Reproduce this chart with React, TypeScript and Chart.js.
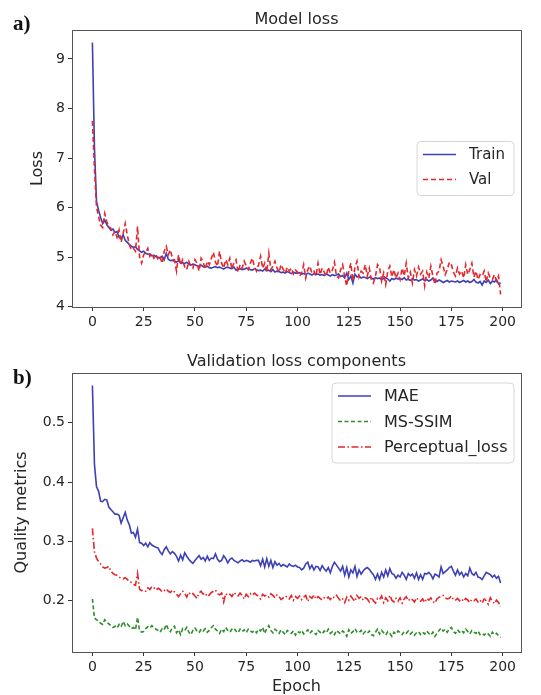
import React, { useEffect, useRef } from "react";
import { Chart, registerables } from "chart.js";

Chart.register(...registerables);

// ---------- data ----------
const EPOCHS = Array.from({ length: 200 }, (_, i) => i);
const X_TICKS = [0, 25, 50, 75, 100, 125, 150, 175, 200];
const LOSS_TICKS = [4, 5, 6, 7, 8, 9];
const METRIC_TICKS = [0.2, 0.3, 0.4, 0.5];

const TRAIN = [
  9.33, 7.2, 6.12, 5.95, 5.8, 5.68, 5.75, 5.66, 5.6, 5.55,
  5.57, 5.5, 5.52, 5.4, 5.38, 5.45, 5.34, 5.3, 5.26, 5.22,
  5.2, 5.21, 5.16, 5.13, 5.1, 5.12, 5.08, 5.06, 5.07, 5.03,
  5.04, 5.01, 5.0, 4.98, 5.02, 4.95, 5.08, 4.96, 4.93, 4.94,
  4.92, 4.9, 4.93, 4.88, 4.89, 4.87, 4.9, 4.86, 4.84, 4.86,
  4.85, 4.83, 4.82, 4.84, 4.81, 4.8, 4.82, 4.79, 4.78, 4.8,
  4.81, 4.79, 4.8, 4.78, 4.76, 4.79, 4.8, 4.78, 4.77, 4.8,
  4.74, 4.76, 4.77, 4.75, 4.76, 4.78, 4.77, 4.75, 4.74, 4.77,
  4.75, 4.73, 4.74, 4.72, 4.76, 4.73, 4.74, 4.71, 4.75, 4.7,
  4.72, 4.71, 4.69, 4.7, 4.68, 4.71, 4.69, 4.67, 4.7, 4.68,
  4.68, 4.69, 4.66, 4.67, 4.65, 4.68, 4.66, 4.64, 4.67, 4.65,
  4.66, 4.64, 4.65, 4.63, 4.66, 4.64, 4.62, 4.65, 4.63, 4.64,
  4.66, 4.61, 4.63, 4.58, 4.68, 4.55, 4.62, 4.48, 4.66, 4.6,
  4.62, 4.58, 4.6, 4.59, 4.57, 4.6, 4.58, 4.56, 4.59, 4.57,
  4.58, 4.55, 4.57, 4.59, 4.56, 4.52, 4.57, 4.55, 4.58, 4.56,
  4.57, 4.55, 4.59, 4.54, 4.56, 4.53, 4.57, 4.54, 4.55, 4.52,
  4.54, 4.56, 4.53, 4.55, 4.52, 4.54, 4.58, 4.53, 4.51, 4.54,
  4.52, 4.49, 4.51, 4.53, 4.5, 4.52, 4.51, 4.5, 4.52, 4.49,
  4.51, 4.53, 4.5, 4.52, 4.49, 4.51, 4.55, 4.5, 4.48, 4.51,
  4.44, 4.52, 4.49, 4.54, 4.47, 4.52, 4.5, 4.55, 4.46, 4.48,
];

const VAL = [
  7.75, 6.8, 6.02, 5.82, 5.65, 5.6, 5.88, 5.72, 5.62, 5.58,
  5.45, 5.52, 5.4, 5.55, 5.3, 5.48, 5.68, 5.45, 5.25, 5.15,
  5.18, 5.12, 5.62, 5.0, 4.88, 5.05, 5.1, 5.18, 5.02, 5.08,
  4.98, 5.05, 4.95, 5.0, 4.88, 5.12, 5.22, 5.05, 5.15, 4.98,
  4.95, 4.72, 5.05, 4.85, 4.95, 4.8, 4.75, 4.92, 4.82, 4.78,
  4.95, 4.88, 4.72, 4.98, 4.9, 4.76, 4.92, 4.85, 4.98, 5.1,
  4.9, 4.82, 5.12, 4.88, 4.78, 4.95, 4.85, 4.98, 4.76, 4.9,
  4.95, 4.7, 4.85, 4.78, 4.92, 4.82, 4.75, 4.88, 4.98, 4.8,
  4.72, 4.85, 5.02, 4.78, 4.88, 4.7, 5.08, 4.75, 4.82, 4.92,
  4.78, 4.7, 4.85, 4.76, 4.68, 4.8, 4.72, 4.78, 4.66, 4.74,
  4.7, 4.62, 4.68, 4.85, 4.58, 4.75, 4.82, 4.68, 4.72, 4.62,
  4.88, 4.65, 4.78, 4.7, 4.62, 4.8, 4.68, 4.74, 4.9, 4.62,
  4.58, 4.75, 4.85, 4.6, 4.42, 4.72, 4.88, 4.52, 4.8, 4.92,
  4.6, 4.72, 4.68, 4.85, 4.62, 4.78, 4.55, 4.48, 4.62, 4.85,
  4.8, 4.52, 4.68, 4.45, 4.72, 4.82, 4.6, 4.75, 4.58, 4.68,
  4.55, 4.78, 4.62, 4.88, 4.58, 4.7, 4.48, 4.75, 4.62, 4.8,
  4.66, 4.72, 4.42, 4.7, 4.58, 4.82, 4.62, 4.45, 4.68, 4.72,
  4.95, 4.82, 4.65, 4.75, 4.9, 4.85, 4.7, 4.62, 4.78, 4.66,
  4.72, 4.58, 4.85, 4.65, 4.75, 4.88, 4.6, 4.72, 4.55, 4.65,
  4.62, 4.72, 4.5, 4.68, 4.58, 4.55, 4.65, 4.52, 4.62, 4.25,
];

const MAE = [
  0.563, 0.43, 0.392, 0.385, 0.368, 0.367, 0.371, 0.37, 0.358, 0.354,
  0.35, 0.346, 0.346, 0.344, 0.331, 0.34, 0.349, 0.336, 0.328, 0.314,
  0.315, 0.307, 0.321, 0.298, 0.297, 0.293, 0.297, 0.291, 0.298, 0.294,
  0.292, 0.29, 0.289, 0.282, 0.278, 0.286, 0.291, 0.284, 0.279, 0.283,
  0.28, 0.275, 0.267, 0.277, 0.269, 0.281, 0.275, 0.27, 0.266, 0.263,
  0.268, 0.272, 0.276, 0.27, 0.273, 0.267, 0.275, 0.268, 0.272, 0.271,
  0.279, 0.27, 0.266, 0.268, 0.276, 0.271, 0.264, 0.27, 0.272, 0.268,
  0.266, 0.264, 0.267, 0.269, 0.266, 0.268, 0.267, 0.265, 0.268, 0.267,
  0.268, 0.268, 0.259, 0.27, 0.257, 0.271, 0.258, 0.268, 0.256, 0.266,
  0.26, 0.263, 0.258, 0.261, 0.259, 0.257, 0.262, 0.259, 0.258, 0.26,
  0.257, 0.256, 0.252, 0.255, 0.262, 0.265, 0.254, 0.26, 0.252, 0.258,
  0.257, 0.251, 0.259, 0.254, 0.25, 0.256, 0.247, 0.258, 0.265, 0.26,
  0.255, 0.25, 0.258, 0.243, 0.256, 0.24, 0.252, 0.247, 0.258, 0.241,
  0.252, 0.245, 0.25, 0.254, 0.256, 0.253, 0.248, 0.244, 0.236, 0.245,
  0.236, 0.248, 0.24, 0.252, 0.242, 0.254, 0.246, 0.244, 0.238, 0.243,
  0.24, 0.248, 0.243, 0.236, 0.246, 0.242, 0.245, 0.238, 0.247, 0.236,
  0.244, 0.236, 0.246, 0.245, 0.248, 0.244, 0.237, 0.245, 0.243, 0.24,
  0.257, 0.246, 0.249, 0.252, 0.256, 0.258, 0.25, 0.243, 0.252, 0.244,
  0.248, 0.24, 0.246, 0.242, 0.255, 0.246, 0.243, 0.248, 0.24, 0.239,
  0.236, 0.242, 0.248, 0.246, 0.244, 0.24, 0.243, 0.238, 0.241, 0.23,
];

const MS_SSIM = [
  0.203, 0.171, 0.168, 0.166, 0.162, 0.16, 0.168, 0.164, 0.161, 0.158,
  0.155, 0.157, 0.154, 0.16, 0.156, 0.165, 0.158, 0.161, 0.157, 0.153,
  0.155, 0.151, 0.172, 0.15, 0.147, 0.148, 0.153, 0.156, 0.154, 0.158,
  0.155, 0.152, 0.15, 0.147, 0.153, 0.151, 0.16, 0.152, 0.148, 0.155,
  0.157, 0.146, 0.151, 0.143, 0.153, 0.15, 0.155, 0.147, 0.143, 0.15,
  0.154, 0.149, 0.146, 0.152, 0.149, 0.153, 0.147, 0.15, 0.155, 0.158,
  0.152, 0.149, 0.145, 0.152, 0.148, 0.155, 0.15, 0.147, 0.152, 0.154,
  0.149, 0.146, 0.152, 0.148, 0.151, 0.146, 0.152, 0.149, 0.147, 0.15,
  0.146, 0.152, 0.149, 0.155, 0.145, 0.153, 0.158, 0.15, 0.146, 0.152,
  0.149, 0.145, 0.151, 0.147, 0.143, 0.15, 0.147, 0.145, 0.149, 0.142,
  0.148, 0.146, 0.15, 0.144, 0.147, 0.151, 0.145, 0.149, 0.146, 0.143,
  0.15, 0.147, 0.144, 0.149, 0.146, 0.152, 0.145, 0.148, 0.143, 0.15,
  0.147, 0.144, 0.149, 0.146, 0.14, 0.151, 0.145, 0.148, 0.153, 0.147,
  0.146, 0.15, 0.144, 0.148, 0.145, 0.149, 0.143, 0.141, 0.147, 0.152,
  0.144, 0.15, 0.146, 0.142, 0.148, 0.145, 0.14, 0.147, 0.144, 0.149,
  0.146, 0.143, 0.148, 0.145, 0.149, 0.144, 0.147, 0.142, 0.146, 0.148,
  0.143, 0.147, 0.144, 0.149, 0.145, 0.142, 0.147, 0.14, 0.145, 0.15,
  0.154, 0.149, 0.152, 0.147, 0.153, 0.155, 0.148, 0.145, 0.151, 0.147,
  0.15, 0.146, 0.152, 0.148, 0.144, 0.15, 0.147, 0.145, 0.149, 0.143,
  0.145, 0.142, 0.146, 0.144, 0.14, 0.147, 0.143, 0.145, 0.141, 0.138,
];

const PERCEPTUAL = [
  0.322, 0.282, 0.272, 0.266, 0.262, 0.257, 0.255, 0.256, 0.258, 0.25,
  0.246, 0.244, 0.243, 0.24, 0.238, 0.237, 0.239, 0.236, 0.232, 0.231,
  0.228, 0.226, 0.246, 0.219, 0.217, 0.218, 0.216, 0.222, 0.219, 0.224,
  0.222, 0.218, 0.221, 0.219, 0.215, 0.217, 0.22, 0.216, 0.214, 0.218,
  0.215, 0.211, 0.207, 0.212, 0.216, 0.213, 0.206, 0.214, 0.21, 0.212,
  0.208, 0.204, 0.213, 0.216, 0.211, 0.213, 0.207, 0.21, 0.214, 0.216,
  0.218, 0.212, 0.21, 0.213, 0.198, 0.212, 0.209, 0.211, 0.207, 0.214,
  0.21, 0.208, 0.213, 0.209, 0.203, 0.211, 0.207, 0.212, 0.209, 0.213,
  0.21, 0.207, 0.203, 0.211, 0.208, 0.21, 0.206, 0.212, 0.209, 0.205,
  0.21, 0.207, 0.202, 0.205, 0.208, 0.206, 0.203, 0.209, 0.201, 0.207,
  0.204, 0.208, 0.202, 0.206, 0.209, 0.199, 0.207, 0.204, 0.21, 0.203,
  0.207, 0.204, 0.201, 0.205, 0.203, 0.206, 0.202, 0.207, 0.205, 0.209,
  0.204, 0.2, 0.203, 0.197, 0.206, 0.201, 0.208, 0.203, 0.199, 0.209,
  0.204, 0.207, 0.201, 0.205, 0.203, 0.198, 0.206, 0.2, 0.196, 0.204,
  0.202, 0.208, 0.197, 0.205, 0.2, 0.209, 0.201, 0.198, 0.204, 0.199,
  0.205, 0.196, 0.203, 0.207, 0.2, 0.204, 0.202, 0.198, 0.205, 0.201,
  0.199, 0.203, 0.197, 0.204, 0.201, 0.205, 0.199, 0.196, 0.203, 0.206,
  0.207, 0.209, 0.205, 0.203, 0.204, 0.208, 0.202, 0.201, 0.204, 0.2,
  0.203, 0.199, 0.204, 0.201, 0.197, 0.202, 0.2, 0.203, 0.198, 0.201,
  0.196, 0.203, 0.2, 0.194, 0.205, 0.199, 0.195, 0.201, 0.197, 0.19,
];

// ---------- styling ----------
const FONT = "'DejaVu Sans', sans-serif";
const TEXT = "#262626";
const BLUE = "#3d41b5";
const RED = "#e5262b";
const GREEN = "#2f8c2f";

const X_MIN = -9.95;
const X_MAX = 208.95;

const frameLegendPlugin = {
  id: "frameLegend",
  afterDatasetsDraw(chart: any, _args: any, opts: any) {
    const { ctx, chartArea: a } = chart;
    ctx.save();
    // full box frame
    ctx.strokeStyle = "#555555";
    ctx.lineWidth = 1;
    ctx.setLineDash([]);
    ctx.strokeRect(
      Math.round(a.left) + 0.5,
      Math.round(a.top) + 0.5,
      Math.round(a.right - a.left),
      Math.round(a.bottom - a.top)
    );
    // title centred over the plot area
    ctx.font = `16px ${FONT}`;
    ctx.fillStyle = TEXT;
    ctx.textAlign = "center";
    ctx.textBaseline = "middle";
    ctx.fillText(opts.title, (a.left + a.right) / 2, opts.titleY);

    // legend
    const w = opts.width;
    const h = opts.height;
    const bx = a.right - opts.rightGap - w;
    const by = opts.vCenter ? (a.top + a.bottom) / 2 - h / 2 : a.top + opts.topGap;
    const r = 4;
    ctx.beginPath();
    ctx.moveTo(bx + r, by);
    ctx.lineTo(bx + w - r, by);
    ctx.quadraticCurveTo(bx + w, by, bx + w, by + r);
    ctx.lineTo(bx + w, by + h - r);
    ctx.quadraticCurveTo(bx + w, by + h, bx + w - r, by + h);
    ctx.lineTo(bx + r, by + h);
    ctx.quadraticCurveTo(bx, by + h, bx, by + h - r);
    ctx.lineTo(bx, by + r);
    ctx.quadraticCurveTo(bx, by, bx + r, by);
    ctx.closePath();
    ctx.fillStyle = "rgba(255,255,255,0.85)";
    ctx.fill();
    ctx.strokeStyle = "#d6d6d6";
    ctx.lineWidth = 1;
    ctx.stroke();

    ctx.font = `${opts.fontSize}px ${FONT}`;
    ctx.textBaseline = "middle";
    ctx.textAlign = "left";
    chart.data.datasets.forEach((ds: any, i: number) => {
      const y = by + opts.firstRow + i * opts.rowH;
      ctx.beginPath();
      ctx.strokeStyle = ds.borderColor;
      ctx.lineWidth = ds.borderWidth;
      ctx.setLineDash(ds.borderDash || []);
      ctx.moveTo(bx + 6, y);
      ctx.lineTo(bx + 39, y);
      ctx.stroke();
      ctx.setLineDash([]);
      ctx.fillStyle = TEXT;
      ctx.fillText(ds.label, bx + 52, y + 1);
    });
    ctx.restore();
  },
};

function toPoints(values: number[]) {
  return EPOCHS.map((x, i) => ({ x, y: values[i] }));
}

function xScale(axisHeight: number, title: string | null) {
  return {
    type: "linear",
    min: X_MIN,
    max: X_MAX,
    afterBuildTicks: (s: any) => {
      s.ticks = X_TICKS.map((v) => ({ value: v }));
    },
    afterFit: (s: any) => {
      s.height = axisHeight;
    },
    ticks: {
      font: { size: 14, family: FONT },
      color: TEXT,
      padding: 3,
      maxRotation: 0,
      autoSkip: false,
      callback: (v: any) => String(v),
    },
    grid: {
      drawOnChartArea: false,
      drawTicks: true,
      tickLength: 4,
      tickColor: "#333333",
    },
    border: { display: false },
    title: {
      display: !!title,
      text: title || "",
      font: { size: 16, family: FONT, lineHeight: 1 },
      color: TEXT,
      padding: { top: 0, bottom: 0 },
    },
  };
}

function yScale(min: number, max: number, ticks: number[], title: string, titlePad: number) {
  return {
    type: "linear",
    min,
    max,
    afterBuildTicks: (s: any) => {
      s.ticks = ticks.map((v) => ({ value: v }));
    },
    afterFit: (s: any) => {
      s.width = 72;
    },
    ticks: {
      font: { size: 14, family: FONT },
      color: TEXT,
      padding: 3,
      callback: (v: any) => String(v),
    },
    grid: {
      drawOnChartArea: false,
      drawTicks: true,
      tickLength: 4,
      tickColor: "#333333",
    },
    border: { display: false },
    title: {
      display: true,
      text: title,
      font: { size: 16, family: FONT, lineHeight: 1.2 },
      color: TEXT,
      padding: { top: titlePad, bottom: 0 },
    },
  };
}

export default function App() {
  const topRef = useRef<HTMLCanvasElement | null>(null);
  const botRef = useRef<HTMLCanvasElement | null>(null);

  useEffect(() => {
    Chart.defaults.font.family = FONT;
    const top = new Chart(topRef.current as HTMLCanvasElement, {
      type: "line",
      data: {
        datasets: [
          {
            label: "Train",
            data: toPoints(TRAIN),
            borderColor: BLUE,
            borderWidth: 1.6,
            borderDash: [],
            pointRadius: 0,
            fill: false,
            order: 1,
          },
          {
            label: "Val",
            data: toPoints(VAL),
            borderColor: RED,
            borderWidth: 1.6,
            borderDash: [5, 3],
            pointRadius: 0,
            fill: false,
            order: 0,
          },
        ],
      },
      options: {
        animation: false,
        responsive: false,
        layout: { padding: { left: 0, right: 20, top: 30, bottom: 0 } },
        scales: {
          x: xScale(33, null),
          y: yScale(3.996, 9.584, LOSS_TICKS, "Loss", 28),
        },
        plugins: {
          legend: { display: false },
          tooltip: { enabled: false },
          title: { display: false },
          frameLegend: {
            title: "Model loss",
            titleY: 19.5,
            width: 97,
            height: 54,
            rightGap: 7,
            vCenter: true,
            topGap: 0,
            firstRow: 13,
            rowH: 25,
            fontSize: 15,
          },
        },
      } as any,
      plugins: [frameLegendPlugin],
    } as any);

    const bot = new Chart(botRef.current as HTMLCanvasElement, {
      type: "line",
      data: {
        datasets: [
          {
            label: "MAE",
            data: toPoints(MAE),
            borderColor: BLUE,
            borderWidth: 1.6,
            borderDash: [],
            pointRadius: 0,
            fill: false,
          },
          {
            label: "MS-SSIM",
            data: toPoints(MS_SSIM),
            borderColor: GREEN,
            borderWidth: 1.6,
            borderDash: [4, 2.5],
            pointRadius: 0,
            fill: false,
          },
          {
            label: "Perceptual_loss",
            data: toPoints(PERCEPTUAL),
            borderColor: RED,
            borderWidth: 1.6,
            borderDash: [7, 2.5, 1.5, 2.5],
            pointRadius: 0,
            fill: false,
          },
        ],
      },
      options: {
        animation: false,
        responsive: false,
        layout: { padding: { left: 0, right: 20, top: 33, bottom: 0 } },
        scales: {
          x: xScale(43, "Epoch"),
          y: yScale(0.1136, 0.584, METRIC_TICKS, "Quality metrics", 12),
        },
        plugins: {
          legend: { display: false },
          tooltip: { enabled: false },
          title: { display: false },
          frameLegend: {
            title: "Validation loss components",
            titleY: 21.7,
            width: 182,
            height: 80,
            rightGap: 7,
            vCenter: false,
            topGap: 10,
            firstRow: 13,
            rowH: 25.5,
            fontSize: 16,
          },
        },
      } as any,
      plugins: [frameLegendPlugin],
    } as any);

    return () => {
      top.destroy();
      bot.destroy();
    };
  }, []);

  const panelLabel: React.CSSProperties = {
    position: "absolute",
    left: 13,
    fontFamily: "'Liberation Serif', 'Times New Roman', serif",
    fontWeight: "bold",
    fontSize: 21,
    lineHeight: "21px",
    color: "#111",
    zIndex: 2,
  };

  return (
    <div
      style={{
        position: "fixed",
        left: 0,
        top: 0,
        width: 541,
        height: 695,
        background: "#ffffff",
        overflow: "hidden",
      }}
    >
      <canvas
        ref={topRef}
        width={541}
        height={340}
        style={{ position: "absolute", left: 0, top: 0, width: 541, height: 340 }}
      />
      <canvas
        ref={botRef}
        width={541}
        height={355}
        style={{ position: "absolute", left: 0, top: 340, width: 541, height: 355 }}
      />
      <div style={{ ...panelLabel, top: 13 }}>a)</div>
      <div style={{ ...panelLabel, top: 367 }}>b)</div>
    </div>
  );
}
